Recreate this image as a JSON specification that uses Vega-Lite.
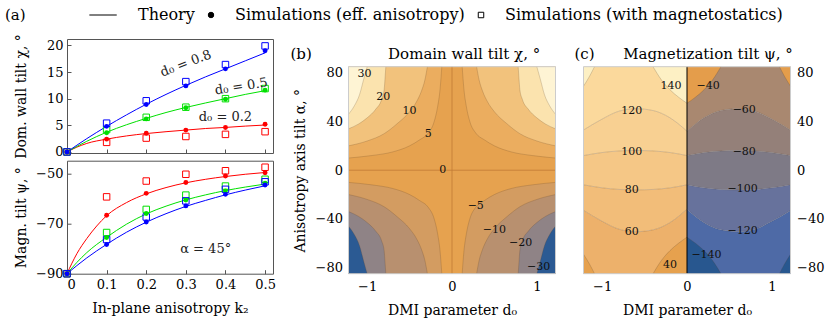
{
"$schema":"https://vega.github.io/schema/vega-lite/v6.json",
"background":"white",
"padding":{"left":5,"top":7,"right":2,"bottom":2},
"spacing":14.5,
"resolve":{"scale":{"color":"independent"}},
"config":{
 "font":"DejaVu Serif",
 "axis":{"labelFont":"DejaVu Serif","labelFontSize":13,"labelColor":"#000","titleFont":"DejaVu Serif","titleFontSize":14,"titleFontWeight":"normal","titleColor":"#000","grid":false,"domain":false,"tickColor":"#555"},
 "legend":{"direction":"horizontal","titleOrient":"left","titleFont":"DejaVu Serif","titleFontSize":15,"titleFontWeight":"normal","titleColor":"#000","titlePadding":80,"labelFont":"DejaVu Serif","labelFontSize":16,"labelColor":"#000","labelLimit":600,"symbolStrokeWidth":1,"symbolSize":30,"symbolOpacity":1,"columnPadding":8,"labelOffset":16,"padding":0},
 "title":{"font":"DejaVu Serif","fontWeight":"normal","color":"#000","fontSize":15}
},
"datasets":{
 "th":[
  {"p":"chi","s":"0.2","k2":0,"v":0},{"p":"chi","s":"0.2","k2":0.025,"v":0.9},{"p":"chi","s":"0.2","k2":0.05,"v":1.6},{"p":"chi","s":"0.2","k2":0.1,"v":2.4},{"p":"chi","s":"0.2","k2":0.15,"v":3.0},{"p":"chi","s":"0.2","k2":0.2,"v":3.45},{"p":"chi","s":"0.2","k2":0.25,"v":3.8},{"p":"chi","s":"0.2","k2":0.3,"v":4.1},{"p":"chi","s":"0.2","k2":0.35,"v":4.4},{"p":"chi","s":"0.2","k2":0.4,"v":4.6},{"p":"chi","s":"0.2","k2":0.45,"v":4.85},{"p":"chi","s":"0.2","k2":0.5,"v":5.05},
  {"p":"chi","s":"0.5","k2":0,"v":0},{"p":"chi","s":"0.5","k2":0.05,"v":2.0},{"p":"chi","s":"0.5","k2":0.1,"v":3.7},{"p":"chi","s":"0.5","k2":0.15,"v":5.1},{"p":"chi","s":"0.5","k2":0.2,"v":6.3},{"p":"chi","s":"0.5","k2":0.25,"v":7.4},{"p":"chi","s":"0.5","k2":0.3,"v":8.35},{"p":"chi","s":"0.5","k2":0.35,"v":9.2},{"p":"chi","s":"0.5","k2":0.4,"v":10.0},{"p":"chi","s":"0.5","k2":0.45,"v":10.8},{"p":"chi","s":"0.5","k2":0.5,"v":11.5},
  {"p":"chi","s":"0.8","k2":0,"v":0},{"p":"chi","s":"0.8","k2":0.05,"v":2.5},{"p":"chi","s":"0.8","k2":0.1,"v":4.8},{"p":"chi","s":"0.8","k2":0.15,"v":6.95},{"p":"chi","s":"0.8","k2":0.2,"v":8.95},{"p":"chi","s":"0.8","k2":0.25,"v":10.8},{"p":"chi","s":"0.8","k2":0.3,"v":12.5},{"p":"chi","s":"0.8","k2":0.35,"v":14.1},{"p":"chi","s":"0.8","k2":0.4,"v":15.6},{"p":"chi","s":"0.8","k2":0.45,"v":17.1},{"p":"chi","s":"0.8","k2":0.5,"v":18.6},
  {"p":"psi","s":"0.2","k2":0,"v":-90},{"p":"psi","s":"0.2","k2":0.025,"v":-82},{"p":"psi","s":"0.2","k2":0.05,"v":-76},{"p":"psi","s":"0.2","k2":0.075,"v":-71},{"p":"psi","s":"0.2","k2":0.1,"v":-66.9},{"p":"psi","s":"0.2","k2":0.15,"v":-61.7},{"p":"psi","s":"0.2","k2":0.2,"v":-58.2},{"p":"psi","s":"0.2","k2":0.25,"v":-55.7},{"p":"psi","s":"0.2","k2":0.3,"v":-53.8},{"p":"psi","s":"0.2","k2":0.35,"v":-52.4},{"p":"psi","s":"0.2","k2":0.4,"v":-51.3},{"p":"psi","s":"0.2","k2":0.45,"v":-50.4},{"p":"psi","s":"0.2","k2":0.5,"v":-49.7},
  {"p":"psi","s":"0.5","k2":0,"v":-90},{"p":"psi","s":"0.5","k2":0.025,"v":-85.5},{"p":"psi","s":"0.5","k2":0.05,"v":-81.6},{"p":"psi","s":"0.5","k2":0.1,"v":-75.5},{"p":"psi","s":"0.5","k2":0.15,"v":-70.3},{"p":"psi","s":"0.5","k2":0.2,"v":-66.2},{"p":"psi","s":"0.5","k2":0.25,"v":-63.1},{"p":"psi","s":"0.5","k2":0.3,"v":-60.6},{"p":"psi","s":"0.5","k2":0.35,"v":-58.6},{"p":"psi","s":"0.5","k2":0.4,"v":-56.9},{"p":"psi","s":"0.5","k2":0.45,"v":-55.5},{"p":"psi","s":"0.5","k2":0.5,"v":-54.3},
  {"p":"psi","s":"0.8","k2":0,"v":-90},{"p":"psi","s":"0.8","k2":0.05,"v":-83.7},{"p":"psi","s":"0.8","k2":0.1,"v":-78.3},{"p":"psi","s":"0.8","k2":0.15,"v":-73.5},{"p":"psi","s":"0.8","k2":0.2,"v":-69.5},{"p":"psi","s":"0.8","k2":0.25,"v":-66.1},{"p":"psi","s":"0.8","k2":0.3,"v":-63.2},{"p":"psi","s":"0.8","k2":0.35,"v":-60.8},{"p":"psi","s":"0.8","k2":0.4,"v":-58.6},{"p":"psi","s":"0.8","k2":0.45,"v":-56.7},{"p":"psi","s":"0.8","k2":0.5,"v":-55.0}
 ],
 "sim":[
  {"p":"chi","s":"0.2","k":"m","k2":0,"v":0},{"p":"chi","s":"0.2","k":"m","k2":0.1,"v":1.8},{"p":"chi","s":"0.2","k":"m","k2":0.2,"v":2.6},{"p":"chi","s":"0.2","k":"m","k2":0.3,"v":2.9},{"p":"chi","s":"0.2","k":"m","k2":0.4,"v":3.3},{"p":"chi","s":"0.2","k":"m","k2":0.5,"v":3.8},
  {"p":"chi","s":"0.2","k":"e","k2":0,"v":0},{"p":"chi","s":"0.2","k":"e","k2":0.1,"v":2.4},{"p":"chi","s":"0.2","k":"e","k2":0.2,"v":3.5},{"p":"chi","s":"0.2","k":"e","k2":0.3,"v":4.1},{"p":"chi","s":"0.2","k":"e","k2":0.4,"v":4.6},{"p":"chi","s":"0.2","k":"e","k2":0.5,"v":5.2},
  {"p":"chi","s":"0.5","k":"m","k2":0,"v":0},{"p":"chi","s":"0.5","k":"m","k2":0.1,"v":4.2},{"p":"chi","s":"0.5","k":"m","k2":0.2,"v":6.5},{"p":"chi","s":"0.5","k":"m","k2":0.3,"v":8.4},{"p":"chi","s":"0.5","k":"m","k2":0.4,"v":10.0},{"p":"chi","s":"0.5","k":"m","k2":0.5,"v":11.9},
  {"p":"chi","s":"0.5","k":"e","k2":0,"v":0},{"p":"chi","s":"0.5","k":"e","k2":0.1,"v":3.6},{"p":"chi","s":"0.5","k":"e","k2":0.2,"v":6.2},{"p":"chi","s":"0.5","k":"e","k2":0.3,"v":8.3},{"p":"chi","s":"0.5","k":"e","k2":0.4,"v":9.9},{"p":"chi","s":"0.5","k":"e","k2":0.5,"v":11.6},
  {"p":"chi","s":"0.8","k":"m","k2":0,"v":0},{"p":"chi","s":"0.8","k":"m","k2":0.1,"v":5.4},{"p":"chi","s":"0.8","k":"m","k2":0.2,"v":9.6},{"p":"chi","s":"0.8","k":"m","k2":0.3,"v":13.2},{"p":"chi","s":"0.8","k":"m","k2":0.4,"v":16.4},{"p":"chi","s":"0.8","k":"m","k2":0.5,"v":19.9},
  {"p":"chi","s":"0.8","k":"e","k2":0,"v":0},{"p":"chi","s":"0.8","k":"e","k2":0.1,"v":4.8},{"p":"chi","s":"0.8","k":"e","k2":0.2,"v":8.9},{"p":"chi","s":"0.8","k":"e","k2":0.3,"v":12.4},{"p":"chi","s":"0.8","k":"e","k2":0.4,"v":15.6},{"p":"chi","s":"0.8","k":"e","k2":0.5,"v":19.0},
  {"p":"psi","s":"0.2","k":"m","k2":0,"v":-90},{"p":"psi","s":"0.2","k":"m","k2":0.1,"v":-59.4},{"p":"psi","s":"0.2","k":"m","k2":0.2,"v":-53.1},{"p":"psi","s":"0.2","k":"m","k2":0.3,"v":-50.4},{"p":"psi","s":"0.2","k":"m","k2":0.4,"v":-49.0},{"p":"psi","s":"0.2","k":"m","k2":0.5,"v":-47.6},
  {"p":"psi","s":"0.2","k":"e","k2":0,"v":-90},{"p":"psi","s":"0.2","k":"e","k2":0.1,"v":-66.7},{"p":"psi","s":"0.2","k":"e","k2":0.2,"v":-58.0},{"p":"psi","s":"0.2","k":"e","k2":0.3,"v":-53.7},{"p":"psi","s":"0.2","k":"e","k2":0.4,"v":-51.1},{"p":"psi","s":"0.2","k":"e","k2":0.5,"v":-49.8},
  {"p":"psi","s":"0.5","k":"m","k2":0,"v":-90},{"p":"psi","s":"0.5","k":"m","k2":0.1,"v":-73.6},{"p":"psi","s":"0.5","k":"m","k2":0.2,"v":-64.4},{"p":"psi","s":"0.5","k":"m","k2":0.3,"v":-58.7},{"p":"psi","s":"0.5","k":"m","k2":0.4,"v":-55.1},{"p":"psi","s":"0.5","k":"m","k2":0.5,"v":-52.4},
  {"p":"psi","s":"0.5","k":"e","k2":0,"v":-90},{"p":"psi","s":"0.5","k":"e","k2":0.1,"v":-75.6},{"p":"psi","s":"0.5","k":"e","k2":0.2,"v":-66.0},{"p":"psi","s":"0.5","k":"e","k2":0.3,"v":-60.7},{"p":"psi","s":"0.5","k":"e","k2":0.4,"v":-57.0},{"p":"psi","s":"0.5","k":"e","k2":0.5,"v":-54.0},
  {"p":"psi","s":"0.8","k":"m","k2":0,"v":-90},{"p":"psi","s":"0.8","k":"m","k2":0.1,"v":-76.4},{"p":"psi","s":"0.8","k":"m","k2":0.2,"v":-67.4},{"p":"psi","s":"0.8","k":"m","k2":0.3,"v":-61.0},{"p":"psi","s":"0.8","k":"m","k2":0.4,"v":-56.4},{"p":"psi","s":"0.8","k":"m","k2":0.5,"v":-53.4},
  {"p":"psi","s":"0.8","k":"e","k2":0,"v":-90},{"p":"psi","s":"0.8","k":"e","k2":0.1,"v":-78.4},{"p":"psi","s":"0.8","k":"e","k2":0.2,"v":-69.4},{"p":"psi","s":"0.8","k":"e","k2":0.3,"v":-63.0},{"p":"psi","s":"0.8","k":"e","k2":0.4,"v":-58.4},{"p":"psi","s":"0.8","k":"e","k2":0.5,"v":-54.7}
 ],
 "leg":[{"k2":0,"v":0,"lk":"Theory"},{"k2":0,"v":0,"lk":"Simulations (eff. anisotropy)"},{"k2":0,"v":0,"lk":"Simulations (with magnetostatics)"}],
 "bq":[
  {"l":5,"s":"p5","q":"L","d":-1.22,"c":10,"e":85},{"l":5,"s":"p5","q":"L","d":-0.95,"c":12,"e":85},{"l":5,"s":"p5","q":"L","d":-0.7,"c":15,"e":85},{"l":5,"s":"p5","q":"L","d":-0.5,"c":20,"e":85},{"l":5,"s":"p5","q":"L","d":-0.38,"c":25,"e":85},{"l":5,"s":"p5","q":"L","d":-0.28,"c":30.5,"e":85},{"l":5,"s":"p5","q":"L","d":-0.21,"c":40,"e":85},{"l":5,"s":"p5","q":"L","d":-0.17,"c":52,"e":85},{"l":5,"s":"p5","q":"L","d":-0.14,"c":67,"e":85},{"l":5,"s":"p5","q":"L","d":-0.12,"c":85,"e":85},
  {"l":5,"s":"p5","q":"R","d":1.22,"c":10,"e":85},{"l":5,"s":"p5","q":"R","d":0.95,"c":12,"e":85},{"l":5,"s":"p5","q":"R","d":0.7,"c":15,"e":85},{"l":5,"s":"p5","q":"R","d":0.5,"c":20,"e":85},{"l":5,"s":"p5","q":"R","d":0.38,"c":25,"e":85},{"l":5,"s":"p5","q":"R","d":0.28,"c":30.5,"e":85},{"l":5,"s":"p5","q":"R","d":0.21,"c":40,"e":85},{"l":5,"s":"p5","q":"R","d":0.17,"c":52,"e":85},{"l":5,"s":"p5","q":"R","d":0.14,"c":67,"e":85},{"l":5,"s":"p5","q":"R","d":0.12,"c":85,"e":85},
  {"l":5,"s":"m5","q":"L","d":-1.22,"c":-10,"e":-85},{"l":5,"s":"m5","q":"L","d":-0.95,"c":-12,"e":-85},{"l":5,"s":"m5","q":"L","d":-0.7,"c":-15,"e":-85},{"l":5,"s":"m5","q":"L","d":-0.5,"c":-20,"e":-85},{"l":5,"s":"m5","q":"L","d":-0.38,"c":-25,"e":-85},{"l":5,"s":"m5","q":"L","d":-0.28,"c":-30.5,"e":-85},{"l":5,"s":"m5","q":"L","d":-0.21,"c":-40,"e":-85},{"l":5,"s":"m5","q":"L","d":-0.17,"c":-52,"e":-85},{"l":5,"s":"m5","q":"L","d":-0.14,"c":-67,"e":-85},{"l":5,"s":"m5","q":"L","d":-0.12,"c":-85,"e":-85},
  {"l":5,"s":"m5","q":"R","d":1.22,"c":-10,"e":-85},{"l":5,"s":"m5","q":"R","d":0.95,"c":-12,"e":-85},{"l":5,"s":"m5","q":"R","d":0.7,"c":-15,"e":-85},{"l":5,"s":"m5","q":"R","d":0.5,"c":-20,"e":-85},{"l":5,"s":"m5","q":"R","d":0.38,"c":-25,"e":-85},{"l":5,"s":"m5","q":"R","d":0.28,"c":-30.5,"e":-85},{"l":5,"s":"m5","q":"R","d":0.21,"c":-40,"e":-85},{"l":5,"s":"m5","q":"R","d":0.17,"c":-52,"e":-85},{"l":5,"s":"m5","q":"R","d":0.14,"c":-67,"e":-85},{"l":5,"s":"m5","q":"R","d":0.12,"c":-85,"e":-85},
  {"l":10,"s":"p10","q":"L","d":-1.22,"c":20,"e":85},{"l":10,"s":"p10","q":"L","d":-1.0,"c":24,"e":85},{"l":10,"s":"p10","q":"L","d":-0.8,"c":30,"e":85},{"l":10,"s":"p10","q":"L","d":-0.65,"c":38,"e":85},{"l":10,"s":"p10","q":"L","d":-0.5,"c":48,"e":85},{"l":10,"s":"p10","q":"L","d":-0.42,"c":56,"e":85},{"l":10,"s":"p10","q":"L","d":-0.36,"c":65,"e":85},{"l":10,"s":"p10","q":"L","d":-0.32,"c":74,"e":85},{"l":10,"s":"p10","q":"L","d":-0.29,"c":85,"e":85},
  {"l":10,"s":"p10","q":"R","d":1.22,"c":20,"e":85},{"l":10,"s":"p10","q":"R","d":1.0,"c":24,"e":85},{"l":10,"s":"p10","q":"R","d":0.8,"c":30,"e":85},{"l":10,"s":"p10","q":"R","d":0.65,"c":38,"e":85},{"l":10,"s":"p10","q":"R","d":0.5,"c":48,"e":85},{"l":10,"s":"p10","q":"R","d":0.42,"c":56,"e":85},{"l":10,"s":"p10","q":"R","d":0.36,"c":65,"e":85},{"l":10,"s":"p10","q":"R","d":0.32,"c":74,"e":85},{"l":10,"s":"p10","q":"R","d":0.29,"c":85,"e":85},
  {"l":10,"s":"m10","q":"L","d":-1.22,"c":-20,"e":-85},{"l":10,"s":"m10","q":"L","d":-1.0,"c":-24,"e":-85},{"l":10,"s":"m10","q":"L","d":-0.8,"c":-30,"e":-85},{"l":10,"s":"m10","q":"L","d":-0.65,"c":-38,"e":-85},{"l":10,"s":"m10","q":"L","d":-0.5,"c":-48,"e":-85},{"l":10,"s":"m10","q":"L","d":-0.42,"c":-56,"e":-85},{"l":10,"s":"m10","q":"L","d":-0.36,"c":-65,"e":-85},{"l":10,"s":"m10","q":"L","d":-0.32,"c":-74,"e":-85},{"l":10,"s":"m10","q":"L","d":-0.29,"c":-85,"e":-85},
  {"l":10,"s":"m10","q":"R","d":1.22,"c":-20,"e":-85},{"l":10,"s":"m10","q":"R","d":1.0,"c":-24,"e":-85},{"l":10,"s":"m10","q":"R","d":0.8,"c":-30,"e":-85},{"l":10,"s":"m10","q":"R","d":0.65,"c":-38,"e":-85},{"l":10,"s":"m10","q":"R","d":0.5,"c":-48,"e":-85},{"l":10,"s":"m10","q":"R","d":0.42,"c":-56,"e":-85},{"l":10,"s":"m10","q":"R","d":0.36,"c":-65,"e":-85},{"l":10,"s":"m10","q":"R","d":0.32,"c":-74,"e":-85},{"l":10,"s":"m10","q":"R","d":0.29,"c":-85,"e":-85},
  {"l":20,"s":"p20","q":"L","d":-1.22,"c":34,"e":85},{"l":20,"s":"p20","q":"L","d":-1.1,"c":38,"e":85},{"l":20,"s":"p20","q":"L","d":-1.0,"c":43,"e":85},{"l":20,"s":"p20","q":"L","d":-0.9,"c":50,"e":85},{"l":20,"s":"p20","q":"L","d":-0.83,"c":58,"e":85},{"l":20,"s":"p20","q":"L","d":-0.8,"c":66,"e":85},{"l":20,"s":"p20","q":"L","d":-0.79,"c":75,"e":85},{"l":20,"s":"p20","q":"L","d":-0.78,"c":85,"e":85},
  {"l":20,"s":"p20","q":"R","d":1.22,"c":34,"e":85},{"l":20,"s":"p20","q":"R","d":1.1,"c":38,"e":85},{"l":20,"s":"p20","q":"R","d":1.0,"c":43,"e":85},{"l":20,"s":"p20","q":"R","d":0.9,"c":50,"e":85},{"l":20,"s":"p20","q":"R","d":0.83,"c":58,"e":85},{"l":20,"s":"p20","q":"R","d":0.8,"c":66,"e":85},{"l":20,"s":"p20","q":"R","d":0.79,"c":75,"e":85},{"l":20,"s":"p20","q":"R","d":0.78,"c":85,"e":85},
  {"l":20,"s":"m20","q":"L","d":-1.22,"c":-34,"e":-85},{"l":20,"s":"m20","q":"L","d":-1.1,"c":-38,"e":-85},{"l":20,"s":"m20","q":"L","d":-1.0,"c":-43,"e":-85},{"l":20,"s":"m20","q":"L","d":-0.9,"c":-50,"e":-85},{"l":20,"s":"m20","q":"L","d":-0.83,"c":-58,"e":-85},{"l":20,"s":"m20","q":"L","d":-0.8,"c":-66,"e":-85},{"l":20,"s":"m20","q":"L","d":-0.79,"c":-75,"e":-85},{"l":20,"s":"m20","q":"L","d":-0.78,"c":-85,"e":-85},
  {"l":20,"s":"m20","q":"R","d":1.22,"c":-34,"e":-85},{"l":20,"s":"m20","q":"R","d":1.1,"c":-38,"e":-85},{"l":20,"s":"m20","q":"R","d":1.0,"c":-43,"e":-85},{"l":20,"s":"m20","q":"R","d":0.9,"c":-50,"e":-85},{"l":20,"s":"m20","q":"R","d":0.83,"c":-58,"e":-85},{"l":20,"s":"m20","q":"R","d":0.8,"c":-66,"e":-85},{"l":20,"s":"m20","q":"R","d":0.79,"c":-75,"e":-85},{"l":20,"s":"m20","q":"R","d":0.78,"c":-85,"e":-85},
  {"l":30,"s":"p30","q":"L","d":-1.22,"c":46,"e":85},{"l":30,"s":"p30","q":"L","d":-1.15,"c":53,"e":85},{"l":30,"s":"p30","q":"L","d":-1.09,"c":62,"e":85},{"l":30,"s":"p30","q":"L","d":-1.04,"c":75,"e":85},{"l":30,"s":"p30","q":"L","d":-1.0,"c":85,"e":85},
  {"l":30,"s":"p30","q":"R","d":1.22,"c":46,"e":85},{"l":30,"s":"p30","q":"R","d":1.15,"c":53,"e":85},{"l":30,"s":"p30","q":"R","d":1.09,"c":62,"e":85},{"l":30,"s":"p30","q":"R","d":1.04,"c":75,"e":85},{"l":30,"s":"p30","q":"R","d":1.0,"c":85,"e":85},
  {"l":30,"s":"m30","q":"L","d":-1.22,"c":-46,"e":-85},{"l":30,"s":"m30","q":"L","d":-1.15,"c":-53,"e":-85},{"l":30,"s":"m30","q":"L","d":-1.09,"c":-62,"e":-85},{"l":30,"s":"m30","q":"L","d":-1.04,"c":-75,"e":-85},{"l":30,"s":"m30","q":"L","d":-1.0,"c":-85,"e":-85},
  {"l":30,"s":"m30","q":"R","d":1.22,"c":-46,"e":-85},{"l":30,"s":"m30","q":"R","d":1.15,"c":-53,"e":-85},{"l":30,"s":"m30","q":"R","d":1.09,"c":-62,"e":-85},{"l":30,"s":"m30","q":"R","d":1.04,"c":-75,"e":-85},{"l":30,"s":"m30","q":"R","d":1.0,"c":-85,"e":-85}
 ],
 "bl":[{"d":-1.03,"c":79,"t":"30"},{"d":-0.81,"c":60,"t":"20"},{"d":-0.5,"c":49,"t":"10"},{"d":-0.28,"c":29.7,"t":"5"},{"d":-0.11,"c":0.5,"t":"0"},{"d":0.28,"c":-29.7,"t":"−5"},{"d":0.5,"c":-49.5,"t":"−10"},{"d":0.81,"c":-59.7,"t":"−20"},{"d":1.02,"c":-79.5,"t":"−30"}],
 "cq":[
  {"z":0,"s":"l120","q":"L","d":-1.22,"c":33,"e":85},{"z":0,"s":"l120","q":"L","d":-1.0,"c":42,"e":85},{"z":0,"s":"l120","q":"L","d":-0.8,"c":48.5,"e":85},{"z":0,"s":"l120","q":"L","d":-0.6,"c":50.5,"e":85},{"z":0,"s":"l120","q":"L","d":-0.4,"c":49,"e":85},{"z":0,"s":"l120","q":"L","d":-0.2,"c":43,"e":85},{"z":0,"s":"l120","q":"L","d":0,"c":32,"e":85},
  {"z":0,"s":"l100","q":"L","d":-1.22,"c":12,"e":33},{"z":0,"s":"l100","q":"L","d":-1.0,"c":14.5,"e":42},{"z":0,"s":"l100","q":"L","d":-0.8,"c":15.8,"e":48.5},{"z":0,"s":"l100","q":"L","d":-0.6,"c":16.2,"e":50.5},{"z":0,"s":"l100","q":"L","d":-0.4,"c":15.8,"e":49},{"z":0,"s":"l100","q":"L","d":-0.2,"c":14.5,"e":43},{"z":0,"s":"l100","q":"L","d":0,"c":12,"e":32},
  {"z":0,"s":"l80","q":"L","d":-1.22,"c":-12,"e":12},{"z":0,"s":"l80","q":"L","d":-1.0,"c":-14.5,"e":14.5},{"z":0,"s":"l80","q":"L","d":-0.8,"c":-15.8,"e":15.8},{"z":0,"s":"l80","q":"L","d":-0.6,"c":-16.2,"e":16.2},{"z":0,"s":"l80","q":"L","d":-0.4,"c":-15.8,"e":15.8},{"z":0,"s":"l80","q":"L","d":-0.2,"c":-14.5,"e":14.5},{"z":0,"s":"l80","q":"L","d":0,"c":-12,"e":12},
  {"z":0,"s":"l60","q":"L","d":-1.22,"c":-33,"e":-12},{"z":0,"s":"l60","q":"L","d":-1.0,"c":-42,"e":-14.5},{"z":0,"s":"l60","q":"L","d":-0.8,"c":-48.5,"e":-15.8},{"z":0,"s":"l60","q":"L","d":-0.6,"c":-50.5,"e":-16.2},{"z":0,"s":"l60","q":"L","d":-0.4,"c":-49,"e":-15.8},{"z":0,"s":"l60","q":"L","d":-0.2,"c":-43,"e":-14.5},{"z":0,"s":"l60","q":"L","d":0,"c":-32,"e":-12},
  {"z":0,"s":"l40","q":"L","d":-1.22,"c":-85,"e":-33},{"z":0,"s":"l40","q":"L","d":-1.0,"c":-85,"e":-42},{"z":0,"s":"l40","q":"L","d":-0.8,"c":-85,"e":-48.5},{"z":0,"s":"l40","q":"L","d":-0.6,"c":-85,"e":-50.5},{"z":0,"s":"l40","q":"L","d":-0.4,"c":-85,"e":-49},{"z":0,"s":"l40","q":"L","d":-0.2,"c":-85,"e":-43},{"z":0,"s":"l40","q":"L","d":0,"c":-85,"e":-32},
  {"z":1,"s":"l140","q":"c","d":-0.4,"c":85,"e":85},{"z":1,"s":"l140","q":"c","d":-0.3,"c":74,"e":85},{"z":1,"s":"l140","q":"c","d":-0.2,"c":66,"e":85},{"z":1,"s":"l140","q":"c","d":-0.1,"c":60,"e":85},{"z":1,"s":"l140","q":"c","d":0,"c":55,"e":85},
  {"z":1,"s":"l140","q":"k","d":-1.22,"c":69,"e":85},{"z":1,"s":"l140","q":"k","d":-1.15,"c":77,"e":85},{"z":1,"s":"l140","q":"k","d":-1.09,"c":85,"e":85},
  {"z":1,"s":"l00","q":"c","d":-0.4,"c":-85,"e":-85},{"z":1,"s":"l00","q":"c","d":-0.3,"c":-74,"e":-85},{"z":1,"s":"l00","q":"c","d":-0.2,"c":-66,"e":-85},{"z":1,"s":"l00","q":"c","d":-0.1,"c":-60,"e":-85},{"z":1,"s":"l00","q":"c","d":0,"c":-55,"e":-85},
  {"z":1,"s":"l00","q":"k","d":-1.22,"c":-69,"e":-85},{"z":1,"s":"l00","q":"k","d":-1.15,"c":-77,"e":-85},{"z":1,"s":"l00","q":"k","d":-1.09,"c":-85,"e":-85},
  {"z":0,"s":"r60","q":"R","d":1.22,"c":33,"e":85},{"z":0,"s":"r60","q":"R","d":1.0,"c":42,"e":85},{"z":0,"s":"r60","q":"R","d":0.8,"c":48.5,"e":85},{"z":0,"s":"r60","q":"R","d":0.6,"c":50.5,"e":85},{"z":0,"s":"r60","q":"R","d":0.4,"c":49,"e":85},{"z":0,"s":"r60","q":"R","d":0.2,"c":43,"e":85},{"z":0,"s":"r60","q":"R","d":0,"c":32,"e":85},
  {"z":0,"s":"r80","q":"R","d":1.22,"c":12,"e":33},{"z":0,"s":"r80","q":"R","d":1.0,"c":14.5,"e":42},{"z":0,"s":"r80","q":"R","d":0.8,"c":15.8,"e":48.5},{"z":0,"s":"r80","q":"R","d":0.6,"c":16.2,"e":50.5},{"z":0,"s":"r80","q":"R","d":0.4,"c":15.8,"e":49},{"z":0,"s":"r80","q":"R","d":0.2,"c":14.5,"e":43},{"z":0,"s":"r80","q":"R","d":0,"c":12,"e":32},
  {"z":0,"s":"r100","q":"R","d":1.22,"c":-12,"e":12},{"z":0,"s":"r100","q":"R","d":1.0,"c":-14.5,"e":14.5},{"z":0,"s":"r100","q":"R","d":0.8,"c":-15.8,"e":15.8},{"z":0,"s":"r100","q":"R","d":0.6,"c":-16.2,"e":16.2},{"z":0,"s":"r100","q":"R","d":0.4,"c":-15.8,"e":15.8},{"z":0,"s":"r100","q":"R","d":0.2,"c":-14.5,"e":14.5},{"z":0,"s":"r100","q":"R","d":0,"c":-12,"e":12},
  {"z":0,"s":"r120","q":"R","d":1.22,"c":-33,"e":-12},{"z":0,"s":"r120","q":"R","d":1.0,"c":-42,"e":-14.5},{"z":0,"s":"r120","q":"R","d":0.8,"c":-48.5,"e":-15.8},{"z":0,"s":"r120","q":"R","d":0.6,"c":-50.5,"e":-16.2},{"z":0,"s":"r120","q":"R","d":0.4,"c":-49,"e":-15.8},{"z":0,"s":"r120","q":"R","d":0.2,"c":-43,"e":-14.5},{"z":0,"s":"r120","q":"R","d":0,"c":-32,"e":-12},
  {"z":0,"s":"r140","q":"R","d":1.22,"c":-85,"e":-33},{"z":0,"s":"r140","q":"R","d":1.0,"c":-85,"e":-42},{"z":0,"s":"r140","q":"R","d":0.8,"c":-85,"e":-48.5},{"z":0,"s":"r140","q":"R","d":0.6,"c":-85,"e":-50.5},{"z":0,"s":"r140","q":"R","d":0.4,"c":-85,"e":-49},{"z":0,"s":"r140","q":"R","d":0.2,"c":-85,"e":-43},{"z":0,"s":"r140","q":"R","d":0,"c":-85,"e":-32},
  {"z":1,"s":"r40","q":"c","d":0.4,"c":85,"e":85},{"z":1,"s":"r40","q":"c","d":0.3,"c":74,"e":85},{"z":1,"s":"r40","q":"c","d":0.2,"c":66,"e":85},{"z":1,"s":"r40","q":"c","d":0.1,"c":60,"e":85},{"z":1,"s":"r40","q":"c","d":0,"c":55,"e":85},
  {"z":1,"s":"r40","q":"k","d":1.22,"c":69,"e":85},{"z":1,"s":"r40","q":"k","d":1.15,"c":77,"e":85},{"z":1,"s":"r40","q":"k","d":1.09,"c":85,"e":85},
  {"z":1,"s":"r160","q":"c","d":0.4,"c":-85,"e":-85},{"z":1,"s":"r160","q":"c","d":0.3,"c":-74,"e":-85},{"z":1,"s":"r160","q":"c","d":0.2,"c":-66,"e":-85},{"z":1,"s":"r160","q":"c","d":0.1,"c":-60,"e":-85},{"z":1,"s":"r160","q":"c","d":0,"c":-55,"e":-85},
  {"z":1,"s":"r160","q":"k","d":1.22,"c":-69,"e":-85},{"z":1,"s":"r160","q":"k","d":1.15,"c":-77,"e":-85},{"z":1,"s":"r160","q":"k","d":1.09,"c":-85,"e":-85}
 ],
 "cl":[{"d":-0.19,"c":69.5,"t":"140"},{"d":-0.65,"c":49,"t":"120"},{"d":-0.65,"c":14.7,"t":"100"},{"d":-0.65,"c":-15.9,"t":"80"},{"d":-0.65,"c":-50.4,"t":"60"},{"d":-0.2,"c":-77.8,"t":"40"},{"d":0.25,"c":68.9,"t":"−40"},{"d":0.675,"c":49.4,"t":"−60"},{"d":0.675,"c":14.7,"t":"−80"},{"d":0.655,"c":-15.4,"t":"−100"},{"d":0.655,"c":-50.2,"t":"−120"},{"d":0.23,"c":-69.6,"t":"−140"}],
 "frame":[{"d":-1.22,"f":1.22,"c":-85,"e":85}]
},
"hconcat":[
 {"vconcat":[
  {"width":206,"height":114,"view":{"stroke":"#555"},
   "encoding":{
    "x":{"field":"k2","type":"quantitative","scale":{"domain":[0,0.52],"nice":false,"zero":false},"axis":{"values":[0,0.1,0.2,0.3,0.4,0.5],"labels":false,"title":null,"tickSize":-4}},
    "y":{"field":"v","type":"quantitative","scale":{"domain":[-0.2,21.2],"nice":false,"zero":false},"axis":{"values":[0,5,10,15,20],"title":"Dom. wall tilt χ, °","tickSize":-4,"labelPadding":8,"titlePadding":18}}
   },
   "layer":[
    {"data":{"name":"th"},"transform":[{"filter":"datum.p=='chi'"}],"mark":{"type":"line","strokeWidth":1,"interpolate":"monotone"},"encoding":{"color":{"field":"s","type":"nominal","scale":{"domain":["0.2","0.5","0.8"],"range":["#ff0000","#00e000","#0000ff"]},"legend":null}}},
    {"data":{"name":"sim"},"transform":[{"filter":"datum.p=='chi' && datum.k=='m'"}],"mark":{"type":"point","shape":"square","filled":false,"size":42,"strokeWidth":1,"opacity":1},"encoding":{"color":{"field":"s","type":"nominal","legend":null}}},
    {"data":{"name":"sim"},"transform":[{"filter":"datum.p=='chi' && datum.k=='e'"}],"mark":{"type":"point","shape":"circle","filled":true,"size":24,"opacity":1},"encoding":{"color":{"field":"s","type":"nominal","legend":null}}},
    {"data":{"values":[{"k2":0.3,"v":16.6,"t":"d₀ = 0.8","r":-21},{"k2":0.44,"v":12.3,"t":"d₀ = 0.5","r":-9},{"k2":0.4,"v":6.5,"t":"d₀ = 0.2","r":0}]},"mark":{"type":"text","fontSize":13,"font":"DejaVu Serif","color":"#222"},"encoding":{"text":{"field":"t"},"angle":{"field":"r","type":"quantitative","scale":null}}},
    {"data":{"name":"leg"},"mark":{"type":"point","opacity":0},"encoding":{
      "shape":{"field":"lk","type":"nominal","scale":{"domain":["Theory","Simulations (eff. anisotropy)","Simulations (with magnetostatics)"],"range":["M-9,0H1","circle","square"]},"legend":{"title":"(a)","orient":"none","legendX":-62,"legendY":-32}},
      "fill":{"field":"lk","type":"nominal","scale":{"domain":["Theory","Simulations (eff. anisotropy)","Simulations (with magnetostatics)"],"range":["transparent","#000","transparent"]},"legend":{"title":"(a)","orient":"none","legendX":-62,"legendY":-32}},
      "stroke":{"field":"lk","type":"nominal","scale":{"domain":["Theory","Simulations (eff. anisotropy)","Simulations (with magnetostatics)"],"range":["#000","#000","#000"]},"legend":{"title":"(a)","orient":"none","legendX":-62,"legendY":-32}}}}
   ]},
  {"width":206,"height":113,"view":{"stroke":"#555"},
   "encoding":{
    "x":{"field":"k2","type":"quantitative","scale":{"domain":[0,0.52],"nice":false,"zero":false},"axis":{"values":[0,0.1,0.2,0.3,0.4,0.5],"format":"~g","title":"In-plane anisotropy k₂","tickSize":-4,"labelPadding":9,"titlePadding":10}},
    "y":{"field":"v","type":"quantitative","scale":{"domain":[-90,-45],"nice":false,"zero":false},"axis":{"values":[-90,-70,-50],"title":"Magn. tilt ψ, °","tickSize":-4,"labelPadding":8,"titlePadding":7}}
   },
   "layer":[
    {"data":{"name":"th"},"transform":[{"filter":"datum.p=='psi'"}],"mark":{"type":"line","strokeWidth":1,"interpolate":"monotone"},"encoding":{"color":{"field":"s","type":"nominal","scale":{"domain":["0.2","0.5","0.8"],"range":["#ff0000","#00e000","#0000ff"]},"legend":null}}},
    {"data":{"name":"sim"},"transform":[{"filter":"datum.p=='psi' && datum.k=='m'"}],"mark":{"type":"point","shape":"square","filled":false,"size":42,"strokeWidth":1,"opacity":1},"encoding":{"color":{"field":"s","type":"nominal","legend":null}}},
    {"data":{"name":"sim"},"transform":[{"filter":"datum.p=='psi' && datum.k=='e'"}],"mark":{"type":"point","shape":"circle","filled":true,"size":24,"opacity":1},"encoding":{"color":{"field":"s","type":"nominal","legend":null}}},
    {"data":{"values":[{"k2":0.35,"v":-80.3,"t":"α = 45°"}]},"mark":{"type":"text","fontSize":13,"font":"DejaVu Serif","color":"#222"},"encoding":{"text":{"field":"t"}}}
   ]}
 ],"spacing":7.7,"bounds":"flush"},
 {"hconcat":[
  {"width":207,"height":234.7,"view":{"stroke":null},
   "title":{"text":"(b)\u00a0\u00a0\u00a0\u00a0\u00a0\u00a0\u00a0\u00a0\u00a0\u00a0\u00a0\u00a0\u00a0\u00a0\u00a0\u00a0Domain wall tilt χ, °","anchor":"start","frame":"group","dx":-58,"offset":-23},
   "encoding":{
    "x":{"field":"d","type":"quantitative","scale":{"domain":[-1.22,1.22],"nice":false,"zero":false},"axis":{"values":[-1,0,1],"title":"DMI parameter d₀","ticks":false,"labelPadding":7,"titlePadding":10}},
    "y":{"field":"c","type":"quantitative","scale":{"domain":[-85,85],"nice":false,"zero":false,"range":[234.7,27.7]},"axis":{"values":[-80,-40,0,40,80],"title":"Anisotropy axis tilt α, °","ticks":false,"labelPadding":6,"titlePadding":8}}
   },
   "layer":[
    {"data":{"name":"frame"},"mark":{"type":"rect","color":"#e6a24f"},"encoding":{"x2":{"field":"f"},"y2":{"field":"e"}}},
    {"data":{"name":"bq"},"transform":[{"filter":"datum.l==5"}],"mark":{"type":"area","interpolate":"monotone"},"encoding":{"y2":{"field":"e"},"color":{"field":"s","type":"nominal","scale":{"domain":["p30","p20","p10","p5","m5","m10","m20","m30"],"range":["#fef4d4","#fbe3ae","#f2c27c","#ebad5f","#d39c61","#b8906f","#8f8386","#2b5a93"]},"legend":null},"detail":{"field":"q"}}},
    {"data":{"name":"bq"},"transform":[{"filter":"datum.l==10"}],"mark":{"type":"area","interpolate":"monotone"},"encoding":{"y2":{"field":"e"},"color":{"field":"s","type":"nominal","legend":null},"detail":{"field":"q"}}},
    {"data":{"name":"bq"},"transform":[{"filter":"datum.l==20"}],"mark":{"type":"area","interpolate":"monotone"},"encoding":{"y2":{"field":"e"},"color":{"field":"s","type":"nominal","legend":null},"detail":{"field":"q"}}},
    {"data":{"name":"bq"},"transform":[{"filter":"datum.l==30"}],"mark":{"type":"area","interpolate":"monotone"},"encoding":{"y2":{"field":"e"},"color":{"field":"s","type":"nominal","legend":null},"detail":{"field":"q"}}},
    {"data":{"name":"bq"},"mark":{"type":"line","interpolate":"monotone","strokeWidth":0.6,"color":"#5a3d20","opacity":0.35},"encoding":{"detail":[{"field":"s"},{"field":"q"}]}},
    {"data":{"values":[{"d":0,"c":-85,"e":85}]},"mark":{"type":"rule","color":"#c07a35","strokeWidth":1,"opacity":0.8},"encoding":{"y2":{"field":"e"}}},
    {"data":{"values":[{"d":-1.22,"f":1.22,"c":0}]},"mark":{"type":"rule","color":"#c07a35","strokeWidth":1,"opacity":0.8},"encoding":{"x2":{"field":"f"}}},
    {"data":{"name":"bl"},"mark":{"type":"text","fontSize":11,"font":"DejaVu Serif","color":"#111"},"encoding":{"text":{"field":"t"}}},
    {"data":{"name":"frame"},"mark":{"type":"rect","filled":false,"stroke":"#cccccc","strokeWidth":1},"encoding":{"x2":{"field":"f"},"y2":{"field":"e"}}}
   ]},
  {"width":207,"height":234.7,"view":{"stroke":null},
   "title":{"text":"(c)\u00a0\u00a0\u00a0\u00a0\u00a0\u00a0Magnetization tilt ψ, °","anchor":"start","frame":"group","dx":-9,"offset":-23},
   "encoding":{
    "x":{"field":"d","type":"quantitative","scale":{"domain":[-1.22,1.22],"nice":false,"zero":false},"axis":{"values":[-1,0,1],"title":"DMI parameter d₀","ticks":false,"labelPadding":7,"titlePadding":10}},
    "y":{"field":"c","type":"quantitative","scale":{"domain":[-85,85],"nice":false,"zero":false,"range":[234.7,27.7]},"axis":{"orient":"right","values":[-80,-40,0,40,80],"title":null,"ticks":false,"labelPadding":6}}
   },
   "layer":[
    {"data":{"name":"cq"},"transform":[{"filter":"datum.z==0"}],"mark":{"type":"area","interpolate":"monotone"},"encoding":{"y2":{"field":"e"},"color":{"field":"s","type":"nominal","scale":{"domain":["l140","l120","l100","l80","l60","l40","l00","r40","r60","r80","r100","r120","r140","r160"],"range":["#fdf0c4","#fbd99c","#f8d092","#f5c786","#f2bd79","#edb16b","#e6a14e","#e49d4b","#a98870","#948079","#7e7a86","#67729c","#4e6aa6","#28578f"]},"legend":null},"detail":{"field":"q"}}},
    {"data":{"name":"cq"},"transform":[{"filter":"datum.z==1"}],"mark":{"type":"area","interpolate":"monotone"},"encoding":{"y2":{"field":"e"},"color":{"field":"s","type":"nominal","legend":null},"detail":{"field":"q"}}},
    {"data":{"name":"cq"},"transform":[{"filter":"datum.s!='l40' && datum.s!='r140'"}],"mark":{"type":"line","interpolate":"monotone","strokeWidth":0.6,"color":"#4a3a2a","opacity":0.35},"encoding":{"detail":[{"field":"s"},{"field":"q"}]}},
    {"data":{"values":[{"d":0,"c":-85,"e":85}]},"mark":{"type":"rule","color":"#000","strokeWidth":1},"encoding":{"y2":{"field":"e"}}},
    {"data":{"name":"cl"},"mark":{"type":"text","fontSize":11,"font":"DejaVu Serif","color":"#111"},"encoding":{"text":{"field":"t"}}},
    {"data":{"name":"frame"},"mark":{"type":"rect","filled":false,"stroke":"#cccccc","strokeWidth":1},"encoding":{"x2":{"field":"f"},"y2":{"field":"e"}}}
   ]}
 ],"spacing":17,"resolve":{"scale":{"color":"independent"}}}
]
}
